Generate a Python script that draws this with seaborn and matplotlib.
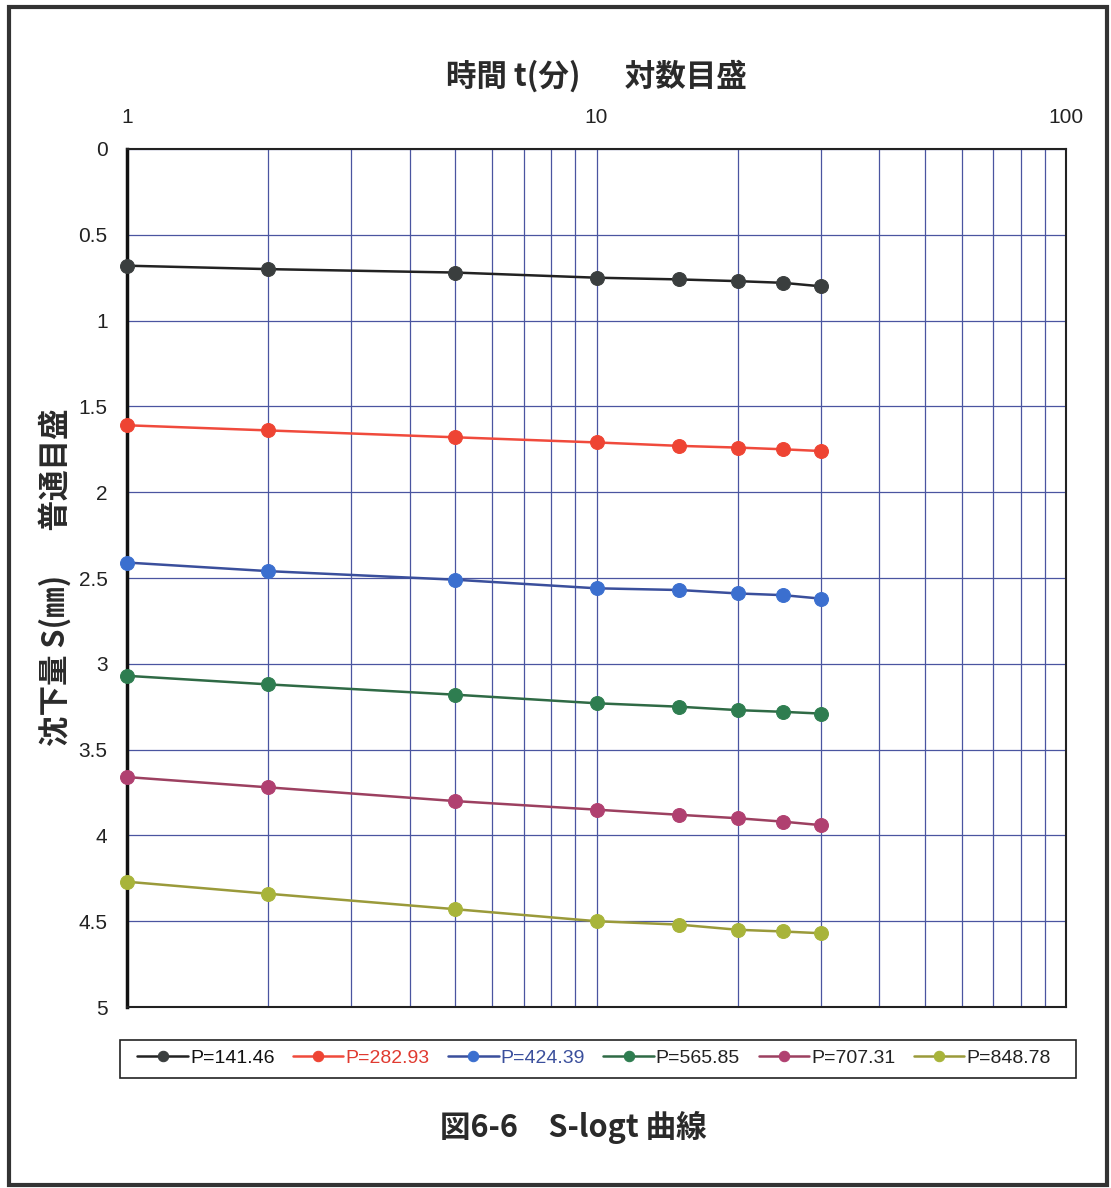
import matplotlib
matplotlib.use("Agg")
import matplotlib.pyplot as plt
from matplotlib.patches import Rectangle
from matplotlib.ticker import LogLocator, FixedLocator, NullFormatter
import seaborn as sns
import pandas as pd

# elapsed time (minutes)
time_min = [1, 2, 5, 10, 15, 20, 25, 30]

# settlement S (mm) for each load step
load_labels = ["P=141.46", "P=282.93", "P=424.39", "P=565.85", "P=707.31", "P=848.78"]
s_141 = [0.68, 0.70, 0.72, 0.75, 0.76, 0.77, 0.78, 0.80]
s_282 = [1.61, 1.64, 1.68, 1.71, 1.73, 1.74, 1.75, 1.76]
s_424 = [2.41, 2.46, 2.51, 2.56, 2.57, 2.59, 2.60, 2.62]
s_565 = [3.07, 3.12, 3.18, 3.23, 3.25, 3.27, 3.28, 3.29]
s_707 = [3.66, 3.72, 3.80, 3.85, 3.88, 3.90, 3.92, 3.94]
s_848 = [4.27, 4.34, 4.43, 4.50, 4.52, 4.55, 4.56, 4.57]
settlements = [s_141, s_282, s_424, s_565, s_707, s_848]

x_ticks = [1, 10, 100]
y_ticks = [0, 0.5, 1, 1.5, 2, 2.5, 3, 3.5, 4, 4.5, 5]
y_tick_labels = ["0", "0.5", "1", "1.5", "2", "2.5", "3", "3.5", "4", "4.5", "5"]

line_colors = ["#222222", "#f04a3c", "#3a4f9c", "#2f6a45", "#9c4060", "#9a9a3a"]
marker_colors = ["#3a3e3e", "#ee4433", "#3b6fcf", "#2e7d50", "#b04070", "#a8b43a"]
legend_text_colors = ["#111111", "#e03a30", "#3a4f9c", "#222222", "#222222", "#222222"]

sns.set_style("white")
plt.rcParams["font.family"] = ["Liberation Sans", "Noto Sans CJK JP", "DejaVu Sans"]

fig = plt.figure(figsize=(11.11, 11.88), dpi=100)
ax = fig.add_axes([127 / 1111, 1 - 1007 / 1188, (1066 - 127) / 1111, (1007 - 149) / 1188])

frames = []
for lab, vals in zip(load_labels, settlements):
    frames.append(pd.DataFrame({"t": time_min, "S": vals, "P": lab}))
df = pd.concat(frames, ignore_index=True)

for lab, lc, mc in zip(load_labels, line_colors, marker_colors):
    sns.lineplot(data=df[df["P"] == lab], x="t", y="S", ax=ax, color=lc,
                 linewidth=1.8, marker="o", markersize=10,
                 markerfacecolor=mc, markeredgecolor=mc, label=lab,
                 zorder=3, clip_on=False)

ax.set_xscale("log")
ax.set_xlim(1, 100)
ax.set_ylim(5, 0)

ax.xaxis.set_major_locator(FixedLocator(x_ticks))
ax.xaxis.set_minor_locator(LogLocator(base=10, subs=range(2, 10)))
ax.xaxis.set_minor_formatter(NullFormatter())
ax.set_xticklabels([str(v) for v in x_ticks])
ax.set_yticks(y_ticks)
ax.set_yticklabels(y_tick_labels)

ax.xaxis.tick_top()
ax.tick_params(axis="x", which="both", length=0, pad=16, labelsize=15, labelcolor="#222222")
ax.tick_params(axis="y", length=0, pad=14, labelsize=15, labelcolor="#222222")

ax.grid(True, which="major", axis="both", color="#4a55a0", linewidth=0.9)
ax.grid(True, which="minor", axis="x", color="#4a55a0", linewidth=0.9)
ax.set_axisbelow(True)

for side in ["top", "bottom", "right"]:
    ax.spines[side].set_color("#222222")
    ax.spines[side].set_linewidth(1.5)
ax.spines["left"].set_color("#111111")
ax.spines["left"].set_linewidth(2.5)

ax.set_xlabel("")
ax.set_ylabel("")

cjk = ["Noto Sans CJK JP", "DejaVu Sans"]
fig.text(596 / 1111, 1 - 76 / 1188, "時間 t(分)　  対数目盛", ha="center", va="center",
         fontsize=22, fontweight="bold", color="#2a2a2a", family=cjk)
fig.text(55 / 1111, 1 - 577 / 1188, "沈下量 S(㎜)　  普通目盛", ha="center", va="center",
         rotation=90, fontsize=22, fontweight="bold", color="#2a2a2a", family=cjk)
fig.text(573 / 1111, 1 - 1127 / 1188, "図6-6　S-logt 曲線", ha="center", va="center",
         fontsize=22, fontweight="bold", color="#2a2a2a", family=cjk)

# legend entries on one row inside a plain box
handles, labels = ax.get_legend_handles_labels()
ax.get_legend().remove()
leg = fig.legend(handles, labels, loc="center",
                 bbox_to_anchor=(594 / 1111, 1 - 1058 / 1188),
                 ncol=6, fontsize=14, frameon=False,
                 handlelength=2.6, handletextpad=0.1, columnspacing=0.95,
                 markerscale=0.75)
for txt, c in zip(leg.get_texts(), legend_text_colors):
    txt.set_color(c)
fig.patches.append(Rectangle((120 / 1111, 1 - 1078 / 1188), 956 / 1111, 38 / 1188,
                             transform=fig.transFigure, fill=False,
                             edgecolor="#222222", linewidth=1.2))

fig.patches.append(Rectangle((9 / 1111, 1 - 1185 / 1188), (1107 - 9) / 1111, (1185 - 7) / 1188,
                             transform=fig.transFigure, fill=False,
                             edgecolor="#333333", linewidth=3))

fig.savefig("out.png", dpi=100)
